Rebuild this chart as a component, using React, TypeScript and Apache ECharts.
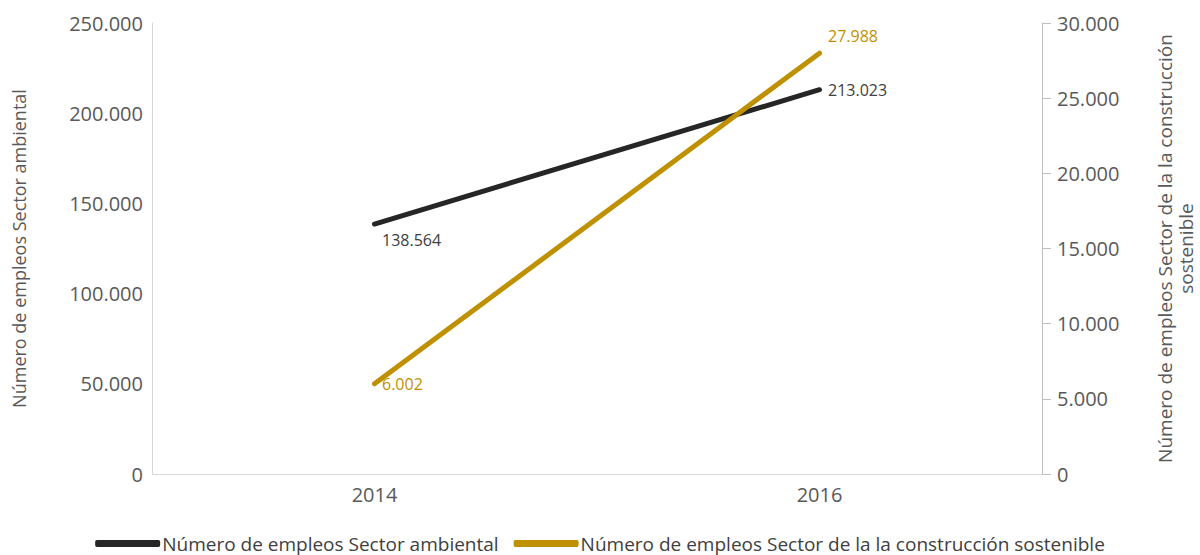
import React, { useEffect, useRef } from "react";
import * as echarts from "echarts";

const years = ["2014", "2016"];
const ambiental = [138564, 213023];
const construccion = [6002, 27988];
const leftName = "Número de empleos Sector ambiental";
const rightName = "Número de empleos Sector de la la construcción\nsostenible";
const legendAmb = "Número de empleos Sector ambiental";
const legendCon = "Número de empleos Sector de la la construcción sostenible";

const fmt = (v: number) => String(Math.round(v)).replace(/\B(?=(\d{3})+(?!\d))/g, ".");
const FONT = "Open Sans";

export default function App() {
  const ref = useRef<HTMLDivElement>(null);
  useEffect(() => {
    if (!ref.current) return;
    const chart = echarts.init(ref.current, null, { renderer: "svg" });
    chart.setOption({
      animation: false,
      textStyle: { fontFamily: FONT },
      grid: { left: 152, right: 158, top: 23, bottom: 81, containLabel: false, outerBoundsMode: "none" },
      legend: {
        bottom: -3,
        left: "center",
        itemWidth: 65,
        itemHeight: 7,
        itemGap: 15,
        icon: "roundRect",
        textStyle: { fontSize: 19, color: "#404040", fontFamily: FONT, padding: [0, 0, 0, -3] },
        data: [legendAmb, legendCon],
      },
      xAxis: {
        type: "category",
        data: years,
        boundaryGap: true,
        axisLine: { lineStyle: { color: "#D9D9D9", width: 1 } },
        axisTick: { show: false },
        axisLabel: { fontSize: 20, color: "#595959", margin: 10, fontFamily: FONT },
      },
      yAxis: [
        {
          type: "value",
          min: 0,
          max: 250000,
          interval: 50000,
          position: "left",
          name: leftName,
          nameLocation: "middle",
          nameRotate: 90,
          nameGap: 124,
          nameTextStyle: { fontSize: 18, color: "#595959", fontFamily: FONT },
          axisLine: { show: true, lineStyle: { color: "#D9D9D9" } },
          axisTick: { show: false },
          splitLine: { show: false },
          axisLabel: { fontSize: 20, color: "#595959", margin: 9, formatter: (v: number) => fmt(v), fontFamily: FONT },
        },
        {
          type: "value",
          min: 0,
          max: 30000,
          interval: 5000,
          position: "right",
          name: rightName,
          nameLocation: "middle",
          nameRotate: 90,
          nameGap: 112,
          nameTextStyle: { fontSize: 19, color: "#595959", fontFamily: FONT, lineHeight: 21, align: "center" },
          axisLine: { show: true, lineStyle: { color: "#BFBFBF" } },
          axisTick: { show: true, inside: false, length: 9, lineStyle: { color: "#BFBFBF" } },
          splitLine: { show: false },
          axisLabel: { fontSize: 20, color: "#595959", margin: 15, formatter: (v: number) => fmt(v), fontFamily: FONT },
        },
      ],
      series: [
        {
          name: legendAmb,
          type: "line",
          yAxisIndex: 0,
          symbol: "circle",
          symbolSize: 1,
          showSymbol: true,
          lineStyle: { color: "#262626", width: 5, cap: "round" },
          itemStyle: { color: "#262626" },
          data: ambiental.map((v, i) => ({
            value: v,
            label: i === 0 ? { position: "right", offset: [2, 16] } : { position: "right", offset: [3, 0] },
          })),
          label: {
            show: true,
            color: "#404040",
            fontSize: 16,
            fontFamily: FONT,
            formatter: (p: any) => fmt(p.value),
          },
          z: 2,
        },
        {
          name: legendCon,
          type: "line",
          yAxisIndex: 1,
          symbol: "circle",
          symbolSize: 1,
          showSymbol: true,
          lineStyle: { color: "#BF9000", width: 5, cap: "round" },
          itemStyle: { color: "#BF9000" },
          data: construccion.map((v, i) => ({
            value: v,
            label: i === 0 ? { position: "right", offset: [2, 0] } : { position: "right", offset: [3, -17] },
          })),
          label: {
            show: true,
            color: "#BF9000",
            fontSize: 16,
            fontFamily: FONT,
            formatter: (p: any) => fmt(p.value),
          },
          z: 3,
        },
      ],
    });
    return () => chart.dispose();
  }, []);
  return <div ref={ref} style={{ width: 1200, height: 555, position: "absolute", left: 0, top: 0 }} />;
}
